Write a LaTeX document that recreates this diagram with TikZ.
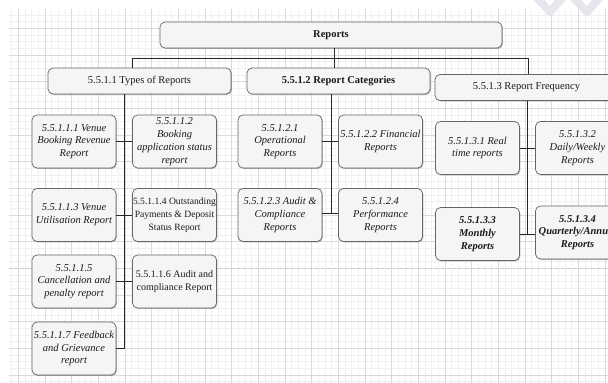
\documentclass[tikz,border=0pt]{standalone}
\usepackage{fontspec}
\setmainfont{Liberation Serif}
\usetikzlibrary{shadows}
\definecolor{boxfill}{HTML}{F5F5F5}
\definecolor{boxdraw}{HTML}{666666}
\definecolor{minorgrid}{HTML}{F0F0F0}
\definecolor{majorgrid}{HTML}{DADADA}
\definecolor{pagebreak}{HTML}{C8C8C8}
\definecolor{wmark}{HTML}{E6E6EC}
\definecolor{txt}{HTML}{1A1A1A}
\tikzset{
  box/.style={draw=boxdraw, fill=boxfill, line width=0.7pt, rounded corners=5pt,
    drop shadow={shadow xshift=0.9pt, shadow yshift=-0.9pt, opacity=0.28, fill=black},
    align=center, inner sep=1pt, text=txt,
    font=\fontsize{10.5}{12.8}\selectfont},
  topbox/.style={box, minimum width=342pt, minimum height=26pt},
  midbox/.style={box, minimum width=183pt, minimum height=26pt},
  leafbox/.style={box, minimum width=84pt, minimum height=53pt},
  conn/.style={draw=black!85, line width=0.8pt},
}
\begin{document}
\begin{tikzpicture}[x=1pt,y=-1pt]
\useasboundingbox (0,0) rectangle (608,383);
\clip (0,0) rectangle (608,383);
% background grid
\foreach \i in {0,...,90} {
  \draw[minorgrid, line width=0.5pt] ({11.63+6.667*\i},9) -- ({11.63+6.667*\i},383);
}
\foreach \i in {0,...,56} {
  \draw[minorgrid, line width=0.5pt] (9,{14.97+6.667*\i}) -- (608,{14.97+6.667*\i});
}
\foreach \i in {0,...,22} {
  \draw[majorgrid, line width=0.5pt] ({18.3+26.67*\i},9) -- ({18.3+26.67*\i},383);
}
\foreach \i in {0,...,13} {
  \draw[majorgrid, line width=0.5pt] (9,{28.3+26.67*\i}) -- (608,{28.3+26.67*\i});
}
\draw[pagebreak, line width=0.8pt, dash pattern=on 3pt off 3pt] (9,268.5) -- (608,268.5);
% watermark shapes
\draw[wmark, line width=8pt, line cap=round, line join=round] (536,-3) -- (550,12) -- (563,-3);
\draw[wmark, line width=8pt, line cap=round, line join=round] (573,-3) -- (587,12) -- (600,-3);

% nodes
\node[topbox] (R) at (331,35) {\textbf{Reports}};
\node[midbox] (T) at (139.5,81) {5.5.1.1 Types of Reports};
\node[midbox] (C) at (338.5,81) {\textbf{5.5.1.2 Report Categories}};
\node[midbox] (F) at (526.5,87.5) {5.5.1.3 Report Frequency};

\node[leafbox] (A1) at (74,141.5) {\itshape 5.5.1.1.1 Venue\\\itshape Booking Revenue\\\itshape Report};
\node[leafbox] (A2) at (174.5,141.5) {\itshape 5.5.1.1.2\\\itshape Booking\\\itshape application status\\\itshape report};
\node[leafbox] (A3) at (74,215) {\itshape 5.5.1.1.3 Venue\\\itshape Utilisation Report};
\node[leafbox, inner sep=0pt, font=\fontsize{9.6}{12.8}\selectfont] (A4) at (174.5,215) {5.5.1.1.4 Outstanding\\Payments \& Deposit\\Status Report};
\node[leafbox] (A5) at (74,281.5) {\itshape 5.5.1.1.5\\\itshape Cancellation and\\\itshape penalty report};
\node[leafbox, font=\fontsize{10}{12.8}\selectfont] (A6) at (174.5,281.5) {5.5.1.1.6 Audit and\\compliance Report};
\node[leafbox] (A7) at (74,348.5) {\itshape 5.5.1.1.7 Feedback\\\itshape and Grievance\\\itshape report};

\node[leafbox] (B1) at (280,141.5) {\itshape 5.5.1.2.1\\\itshape Operational\\\itshape Reports};
\node[leafbox] (B2) at (380.5,141.5) {\itshape 5.5.1.2.2 Financial\\\itshape Reports};
\node[leafbox] (B3) at (280,215) {\itshape 5.5.1.2.3 Audit \&\\\itshape Compliance\\\itshape Reports};
\node[leafbox] (B4) at (380.5,215) {\itshape 5.5.1.2.4\\\itshape Performance\\\itshape Reports};

\node[leafbox] (F1) at (477.5,148) {\itshape 5.5.1.3.1 Real\\\itshape time reports};
\node[leafbox] (F2) at (577.5,148) {\itshape 5.5.1.3.2\\\itshape Daily/Weekly\\\itshape Reports};
\node[leafbox] (F3) at (477.5,234) {\bfseries\itshape 5.5.1.3.3\\\bfseries\itshape Monthly\\\bfseries\itshape Reports};
\node[leafbox] (F4) at (577.5,232.5) {\bfseries\itshape 5.5.1.3.4\\\bfseries\itshape Quarterly/Annual\\\bfseries\itshape Reports};

% connectors level 1
\coordinate (hub) at (334,58);
\draw[conn] ([xshift=3pt]R.south) -- (hub);
\draw[conn] (hub) -| ([xshift=-7.5pt]T.north);
\draw[conn] (hub) -- ([xshift=-4.5pt]C.north);
\draw[conn] (hub) -| ([xshift=1.5pt]F.north);

% spines
\coordinate (ts) at (124,0);
\coordinate (cs) at (331,0);
\coordinate (fs) at (527.5,0);
\draw[conn] (ts |- T.south) -- (ts |- A7.east) -- (A7.east);
\draw[conn] (A1.east) -- (A2.west);
\draw[conn] (A3.east) -- (A4.west);
\draw[conn] (A5.east) -- (A6.west);

\draw[conn] (cs |- C.south) -- ([yshift=2pt]cs |- B3.east);
\draw[conn] (B1.east) -- (B2.west);
\draw[conn] ([yshift=2pt]B3.east) -- ([yshift=2pt]B4.west);

\draw[conn] (fs |- F.south) -- (fs |- F3.east);
\draw[conn] (F1.east) -- (F2.west);
\draw[conn] (F3.east) -- (F4.west |- F3.east);
\end{tikzpicture}
\end{document}
